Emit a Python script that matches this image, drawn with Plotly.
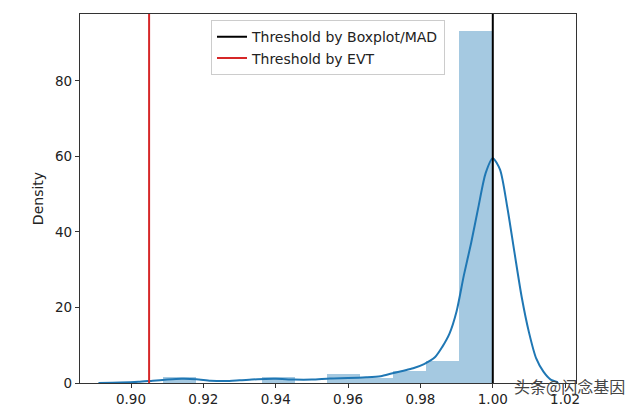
import plotly.graph_objects as go

# ---- data ----
bin_edges = [0.9088, 0.9179, 0.9270, 0.9361, 0.9452, 0.9543, 0.9634, 0.9725, 0.9816, 0.9907, 1.0000]
bin_density = [1.6, 0.0, 0.0, 1.6, 0.0, 2.4, 1.4, 3.1, 5.8, 93.2]

kde_x = [0.891, 0.897, 0.902, 0.906, 0.910, 0.914, 0.918, 0.922, 0.926, 0.930, 0.935,
         0.940, 0.945, 0.950, 0.955, 0.960, 0.965, 0.969, 0.972, 0.975, 0.978, 0.981,
         0.984, 0.986, 0.988, 0.990, 0.992, 0.994, 0.996, 0.998, 1.000, 1.002, 1.004,
         1.006, 1.008, 1.010, 1.012, 1.014, 1.016, 1.018]
kde_y = [0.0, 0.1, 0.3, 0.6, 0.9, 1.1, 1.0, 0.6, 0.5, 0.7, 1.0,
         1.1, 0.9, 0.9, 1.2, 1.3, 1.5, 1.8, 2.5, 3.2, 3.9, 5.0,
         6.8, 9.5, 13.0, 19.0, 28.5, 37.0, 46.5, 55.5, 59.5, 56.5, 46.6,
         34.5, 22.7, 13.4, 6.5, 3.0, 0.9, 0.2]

threshold_labels = ["Threshold by Boxplot/MAD", "Threshold by EVT"]
threshold_values = [1.000, 0.905]
threshold_colors = ["#000000", "#d62728"]

x_ticks = [0.90, 0.92, 0.94, 0.96, 0.98, 1.00, 1.02]
y_ticks = [0, 20, 40, 60, 80]
x_range = [0.8859, 1.0230]
y_range = [0, 97.7]

# ---- figure ----
centers = [(a + b) / 2 for a, b in zip(bin_edges[:-1], bin_edges[1:])]
widths = [b - a for a, b in zip(bin_edges[:-1], bin_edges[1:])]

fig = go.Figure()
fig.add_trace(go.Bar(x=centers, y=bin_density, width=widths,
                     marker=dict(color="rgba(31,119,180,0.4)", line=dict(width=0)),
                     showlegend=False, hoverinfo="skip"))
fig.add_trace(go.Scatter(x=kde_x, y=kde_y, mode="lines",
                         line=dict(color="#1f77b4", width=2, shape="spline", smoothing=0.7),
                         showlegend=False))
for lab, v, c in zip(threshold_labels, threshold_values, threshold_colors):
    fig.add_trace(go.Scatter(x=[v, v], y=y_range, mode="lines",
                             line=dict(color=c, width=2), name=lab))

axis_common = dict(showline=True, linecolor="#333333", linewidth=1.2, mirror=True,
                   ticks="outside", ticklen=4, tickwidth=1, tickcolor="#333333",
                   showgrid=False, zeroline=False, automargin=False,
                   tickfont=dict(family="DejaVu Sans", size=13.5, color="#222222"))

fig.update_layout(
    width=640, height=407,
    margin=dict(l=80, r=64, t=14, b=24),
    paper_bgcolor="white", plot_bgcolor="white",
    bargap=0,
    xaxis=dict(range=x_range, tickvals=x_ticks,
               ticktext=[f"{t:.2f}" for t in x_ticks], **axis_common),
    yaxis=dict(range=y_range, tickvals=y_ticks,
               title=dict(text="Density", font=dict(family="DejaVu Sans", size=14, color="#222222"),
                          standoff=8),
               **axis_common),
    legend=dict(x=0.5, xanchor="center", y=0.983, yanchor="top",
                bgcolor="rgba(255,255,255,0.85)", bordercolor="#cccccc", borderwidth=1,
                font=dict(family="DejaVu Sans", size=14, color="#222222"),
                tracegroupgap=0),
    annotations=[dict(text="头条@闪念基因", xref="paper", yref="paper",
                      x=0.870, y=-0.008, xanchor="left", yanchor="middle",
                      showarrow=False,
                      font=dict(family="Noto Sans CJK SC", size=16, color="#444444"))],
)

fig.write_html("out.html")
